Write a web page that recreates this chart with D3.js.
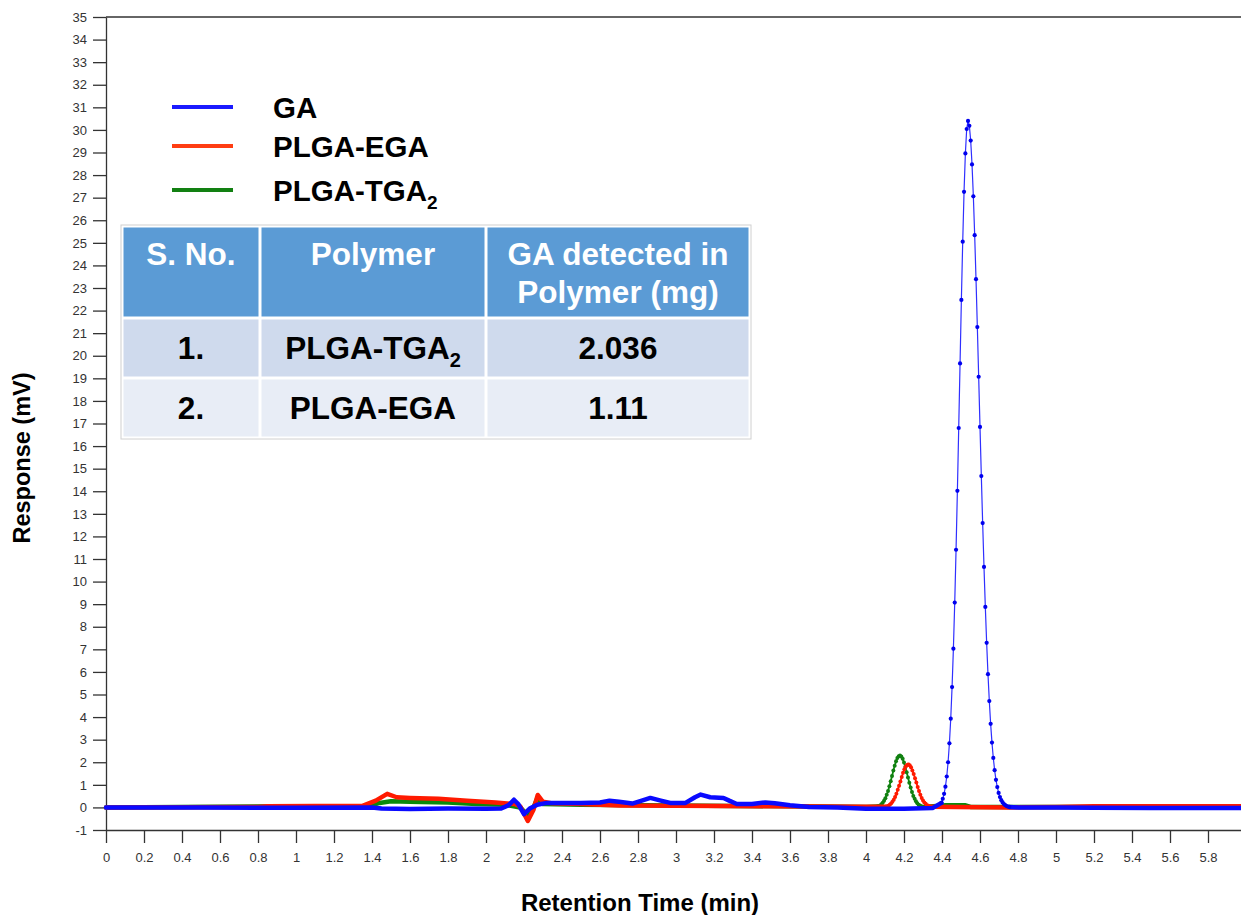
<!DOCTYPE html>
<html><head><meta charset="utf-8">
<script src="https://cdn.jsdelivr.net/npm/d3@7"></script>
<style>
html,body{margin:0;padding:0;background:#fff;}
svg{display:block;font-family:Arial,"Liberation Sans",sans-serif;}
</style></head>
<body><svg id="c" width="1241" height="915"></svg>
<script>
// ---- data ----
const xTickValues = [0,0.2,0.4,0.6,0.8,1,1.2,1.4,1.6,1.8,2,2.2,2.4,2.6,2.8,3,3.2,3.4,3.6,3.8,4,4.2,4.4,4.6,4.8,5,5.2,5.4,5.6,5.8];
const yTickValues = [-1,0,1,2,3,4,5,6,7,8,9,10,11,12,13,14,15,16,17,18,19,20,21,22,23,24,25,26,27,28,29,30,31,32,33,34,35];
const seriesNames = ["GA","PLGA-EGA","PLGA-TGA"];

// GA (blue)
const gaBaseBefore = [[0,0],[0.5,0],[1.0,-0.02],[1.4,0],[1.45,-0.05],[1.6,-0.07],[1.8,-0.05],[2.0,-0.06],[2.08,-0.05],[2.12,0.1],[2.147,0.34],[2.17,0.15],[2.2,-0.3],[2.23,-0.05],[2.27,0.12],[2.32,0.2],[2.5,0.2],[2.6,0.22],[2.65,0.3],[2.7,0.25],[2.77,0.17],[2.82,0.3],[2.865,0.42],[2.92,0.3],[2.97,0.2],[3.05,0.2],[3.1,0.45],[3.13,0.57],[3.18,0.45],[3.25,0.42],[3.28,0.3],[3.32,0.15],[3.4,0.15],[3.47,0.22],[3.52,0.18],[3.6,0.1],[3.7,0.02],[3.85,0],[4.0,-0.06],[4.2,-0.06],[4.35,-0.03],[4.397,0.2]];
const gaPeak = [[4.397,0.2],[4.404,0.38],[4.411,0.60],[4.418,0.92],[4.425,1.37],[4.432,2.00],[4.439,2.84],[4.446,3.93],[4.453,5.33],[4.460,7.03],[4.467,9.07],[4.474,11.41],[4.481,14.02],[4.488,16.80],[4.495,19.66],[4.502,22.47],[4.509,25.05],[4.516,27.26],[4.523,28.96],[4.530,30.04],[4.537,30.40],[4.544,30.18],[4.551,29.53],[4.558,28.47],[4.565,27.06],[4.572,25.34],[4.579,23.39],[4.586,21.27],[4.593,19.07],[4.600,16.85],[4.607,14.67],[4.614,12.59],[4.621,10.65],[4.628,8.88],[4.635,7.29],[4.642,5.90],[4.649,4.71],[4.656,3.70],[4.663,2.87],[4.670,2.19],[4.677,1.65],[4.684,1.22],[4.691,0.90],[4.698,0.64],[4.705,0.46],[4.712,0.32],[4.719,0.22],[4.726,0.15],[4.733,0.10],[4.740,0.06],[4.747,0.04],[4.754,0.02]];
const gaBaseAfter = [[4.754,0.02],[4.8,0],[5.0,0],[5.2,-0.01],[5.5,-0.03],[6.0,-0.03]];

// PLGA-EGA (red)
const egaBaseBefore = [[0,0],[0.8,0.02],[0.85,0.05],[1.35,0.07],[1.42,0.3],[1.48,0.6],[1.53,0.45],[1.6,0.42],[1.75,0.38],[1.9,0.3],[2.05,0.22],[2.15,0.15],[2.18,0.05],[2.22,-0.6],[2.25,-0.1],[2.272,0.55],[2.3,0.25],[2.35,0.18],[2.5,0.15],[2.7,0.08],[3.0,0.07],[3.5,0.05],[4.0,0.03],[4.104,0.03]];
const egaPeak = [[4.104,0.03],[4.111,0.05],[4.118,0.07],[4.125,0.12],[4.132,0.17],[4.139,0.25],[4.146,0.34],[4.153,0.46],[4.160,0.60],[4.167,0.78],[4.174,0.96],[4.181,1.15],[4.188,1.35],[4.195,1.53],[4.202,1.69],[4.209,1.81],[4.216,1.88],[4.223,1.90],[4.230,1.87],[4.237,1.78],[4.244,1.64],[4.251,1.48],[4.258,1.29],[4.265,1.10],[4.272,0.90],[4.279,0.73],[4.286,0.56],[4.293,0.42],[4.300,0.31],[4.307,0.22],[4.314,0.16],[4.321,0.10],[4.328,0.07],[4.335,0.04],[4.342,0.03]];
const egaBaseAfter = [[4.342,0.03],[4.75,0.0],[5.0,0.02],[5.2,0.05],[6.0,0.05]];

// PLGA-TGA2 (green)
const tgaBaseBefore = [[0,0],[1.0,0.05],[1.38,0.05],[1.44,0.2],[1.5,0.27],[1.6,0.25],[1.8,0.22],[1.95,0.15],[2.1,0.12],[2.18,0.0],[2.22,-0.35],[2.25,0],[2.27,0.4],[2.3,0.15],[2.5,0.12],[3.0,0.08],[3.6,0.05],[4.0,0.02],[4.060,0.04]];
const tgaPeak = [[4.060,0.04],[4.067,0.06],[4.074,0.09],[4.081,0.14],[4.088,0.21],[4.095,0.30],[4.102,0.41],[4.109,0.56],[4.116,0.73],[4.123,0.94],[4.130,1.16],[4.137,1.39],[4.144,1.63],[4.151,1.85],[4.158,2.04],[4.165,2.19],[4.172,2.27],[4.179,2.30],[4.186,2.26],[4.193,2.15],[4.200,1.99],[4.207,1.79],[4.214,1.56],[4.221,1.33],[4.228,1.09],[4.235,0.88],[4.242,0.68],[4.249,0.51],[4.256,0.38],[4.263,0.27],[4.270,0.19],[4.277,0.12],[4.284,0.08],[4.291,0.05],[4.298,0.03],[4.305,0.02]];
const tgaBaseAfter = [[4.305,0.02],[4.42,0.1],[4.52,0.1],[4.55,0.02],[6.0,0.02]];

const tableHeader = ["S. No.","Polymer","GA detected in|Polymer (mg)"];
const tableRows = [["1.","PLGA-TGA","2.036"],["2.","PLGA-EGA","1.11"]];
const tableSub = [["","2",""],["","",""]];

// ---- drawing ----
const svg = d3.select("#c");
svg.append("rect").attr("width",1241).attr("height",915).attr("fill","#fff");
const x = d3.scaleLinear().domain([0,6]).range([106,1246]);
const y = d3.scaleLinear().domain([-1,35]).range([830,17]);

const axisColor = "#333";
// top frame
svg.append("line").attr("x1",x(0)).attr("x2",1241).attr("y1",y(35)).attr("y2",y(35)).attr("stroke",axisColor).attr("stroke-width",1.3);

const fmt = d => String(+d.toFixed(1));
const gx = svg.append("g").attr("transform",`translate(0,${y(-1)})`)
  .call(d3.axisBottom(x).tickValues(xTickValues).tickSize(13).tickSizeOuter(0).tickPadding(10).tickFormat(fmt));
const gy = svg.append("g").attr("transform",`translate(${x(0)},0)`)
  .call(d3.axisLeft(y).tickValues(yTickValues).tickSize(13).tickSizeOuter(0).tickPadding(6).tickFormat(d=>String(d)));
[gx,gy].forEach(g=>{
  g.selectAll("path,line").attr("stroke",axisColor).attr("stroke-width",1.3);
  g.selectAll("text").attr("fill","#333").attr("font-size","13px").attr("font-family","Arial,'Liberation Sans',sans-serif");
});

svg.append("text").attr("x",640).attr("y",911).attr("text-anchor","middle")
  .attr("font-weight","bold").attr("font-size","24px").text("Retention Time (min)");
svg.append("text").attr("transform","translate(30,458) rotate(-90)").attr("text-anchor","middle")
  .attr("font-weight","bold").attr("font-size","23.5px").text("Response (mV)");

const line = d3.line().x(d=>x(d[0])).y(d=>y(d[1]));
const plot = svg.append("g");
const series = [
  {color:"#0a8a0a", dot:"#118011", base:[tgaBaseBefore,tgaBaseAfter], peak:tgaPeak, r:2},
  {color:"#ff1a00", dot:"#ff1a00", base:[egaBaseBefore,egaBaseAfter], peak:egaPeak, r:2},
  {color:"#0a0aff", dot:"#0000ee", base:[gaBaseBefore,gaBaseAfter], peak:gaPeak, r:2.1, thin:true}
];
series.forEach(s=>{
  s.base.forEach(b=>plot.append("path").attr("d",line(b)).attr("fill","none")
    .attr("stroke",s.color).attr("stroke-width",4.5).attr("stroke-linejoin","round").attr("stroke-linecap","round"));
  plot.append("path").attr("d",line(s.peak)).attr("fill","none")
    .attr("stroke",s.color).attr("stroke-width",s.thin?1.2:1.8).attr("opacity",s.thin?0.85:1);
  plot.selectAll(null).data(s.peak).enter().append("circle")
    .attr("cx",d=>x(d[0])).attr("cy",d=>y(d[1])).attr("r",s.r).attr("fill",s.dot);
});

// legend
const legendColors = ["#1a1aff","#ff3d12","#128012"];
const legendY = [107,146,190];
seriesNames.forEach((n,i)=>{
  svg.append("line").attr("x1",172).attr("x2",233).attr("y1",legendY[i]).attr("y2",legendY[i])
    .attr("stroke",legendColors[i]).attr("stroke-width",4);
  const t = svg.append("text").attr("x",273).attr("y",legendY[i]+11).attr("font-weight","bold").attr("font-size","29.5px").attr("fill","#000");
  t.append("tspan").text(n);
  if(i===2) t.append("tspan").attr("font-size","19px").attr("dy",8).text("2");
});

// table
const colX = [122,260,486,750];
const rowY = [226,318,378,438];
const fills = ["#5b9bd5","#cfdaed","#e8edf6"];
const tbl = svg.append("g");
tbl.append("rect").attr("x",colX[0]-1).attr("y",rowY[0]-1).attr("width",colX[3]-colX[0]+2).attr("height",rowY[3]-rowY[0]+2)
  .attr("fill","#fff").attr("stroke","#d0d0d0").attr("stroke-width",1);
for(let r=0;r<3;r++){
  for(let c=0;c<3;c++){
    tbl.append("rect").attr("x",colX[c]+1.5).attr("y",rowY[r]+1.5)
      .attr("width",colX[c+1]-colX[c]-3).attr("height",rowY[r+1]-rowY[r]-3).attr("fill",fills[r]);
  }
}
tableHeader.forEach((h,c)=>{
  const cx=(colX[c]+colX[c+1])/2;
  const lines=h.split("|");
  lines.forEach((l,k)=>{
    tbl.append("text").attr("x",cx).attr("y",265+k*38).attr("text-anchor","middle")
      .attr("font-weight","bold").attr("font-size","31.5px").attr("fill","#fff").text(l);
  });
});
tableRows.forEach((row,r)=>{
  row.forEach((v,c)=>{
    const cx=(colX[c]+colX[c+1])/2;
    const cy=(rowY[r+1]+rowY[r+2])/2;
    const t=tbl.append("text").attr("x",cx).attr("y",cy+11).attr("text-anchor","middle")
      .attr("font-weight","bold").attr("font-size","31.5px").attr("fill","#000");
    t.append("tspan").text(v);
    if(tableSub[r][c]) t.append("tspan").attr("font-size","20px").attr("dy",8).text(tableSub[r][c]);
  });
});
</script></body></html>
